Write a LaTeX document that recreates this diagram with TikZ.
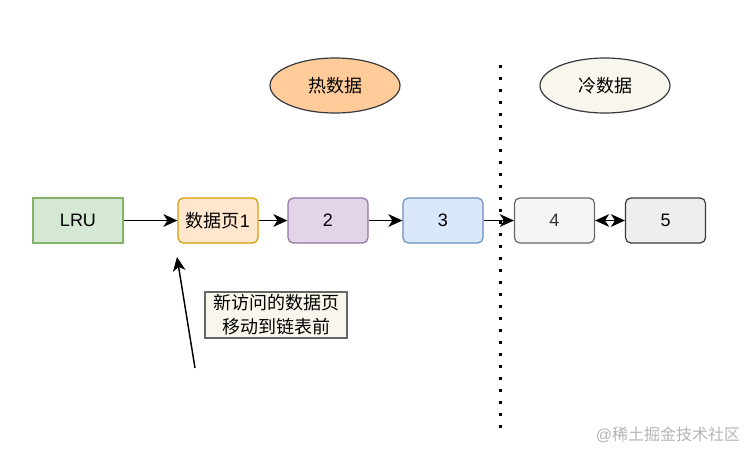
\documentclass[tikz,border=0pt]{standalone}
\usepackage{fontspec}
\setmainfont{Liberation Sans}
\newfontfamily\cjk{Noto Sans CJK SC}
\usetikzlibrary{arrows.meta,positioning,shapes.geometric}
\definecolor{lrufill}{HTML}{D5E8D4}
\definecolor{lruline}{HTML}{82B366}
\definecolor{onefill}{HTML}{FFE6CC}
\definecolor{oneline}{HTML}{D79B00}
\definecolor{twofill}{HTML}{E1D5E7}
\definecolor{twoline}{HTML}{9673A6}
\definecolor{threefill}{HTML}{DAE8FC}
\definecolor{threeline}{HTML}{6C8EBF}
\definecolor{fourfill}{HTML}{F5F5F5}
\definecolor{fourline}{HTML}{666666}
\definecolor{fourtext}{HTML}{333333}
\definecolor{fivefill}{HTML}{EEEEEE}
\definecolor{darkline}{HTML}{36393D}
\definecolor{hotfill}{HTML}{FFCC99}
\definecolor{coldfill}{HTML}{F9F7ED}
\definecolor{markgray}{HTML}{B4B4B4}
\tikzset{%
	page/.style     = {draw, rectangle, rounded corners=4pt, line width=0.9pt, minimum width=60pt, minimum height=33.75pt, inner sep=0pt, text centered}, % list page
	head/.style     = {page, rounded corners=0pt}, % list head
	tag/.style      = {draw=darkline, ellipse, line width=0.9pt, minimum width=97.5pt, minimum height=41.25pt, inner sep=0pt}, % hot / cold label
	note/.style     = {draw=fourline, fill=coldfill, rectangle, line width=1.1pt, minimum width=106.5pt, minimum height=34.5pt, inner sep=1pt, align=center}, % remark
	linktip/.tip    = {Stealth[length=10.5pt,width=9.5pt,inset=3pt]},
	link/.style     = {line width=1.1pt, -linktip},
	dlink/.style    = {line width=1.1pt, linktip-linktip},
}

\begin{document}
\begin{tikzpicture}[x=0.75pt,y=-0.75pt,font=\fontsize{13.5}{18}\selectfont]
	\useasboundingbox (0,0) rectangle (754,458);
	\node [head, fill=lrufill, draw=lruline, minimum width=67.5pt] (lru) at (78,220.5) {LRU};
	\node [page, fill=onefill, draw=oneline] (p1) at (218,220.5) {{\cjk 数据页}1};
	\node [page, fill=twofill, draw=twoline] (p2) at (328,220.5) {2};
	\node [page, fill=threefill, draw=threeline] (p3) at (443,220.5) {3};
	\node [page, fill=fourfill, draw=fourline, text=fourtext] (p4) at (554.5,220.5) {4};
	\node [page, fill=fivefill, draw=darkline] (p5) at (665.5,220.5) {5};
	
	\node [tag, fill=hotfill] (hot) at (335,85.5) {\cjk 热数据};
	\node [tag, fill=coldfill] (cold) at (605,85.5) {\cjk 冷数据};
	
	\node [note] (remark) at (276,315) {\cjk 新访问的数据页\\\cjk 移动到链表前};
	
	% border between hot and cold part
	\coordinate (bordertop) at (500,65);
	\coordinate (borderbot) at (500,428);
	\draw [line width=2.25pt, dash pattern=on 2.25pt off 6.75pt] (bordertop) -- (borderbot);
	
	\draw[link] (lru) -- (p1);
	\draw[link] (p1) -- (p2);
	\draw[link] (p2) -- (p3);
	\draw[link] (p3) -- (p4);
	\draw[dlink] (p4) -- (p5);
	
	\coordinate (pointfrom) at (195,368);
	\coordinate (pointto) at (177,257);
	\draw[link] (pointfrom) -- (pointto);
	
	\node [text=markgray, font=\fontsize{12}{14}\selectfont] (mark) at (668,435) {@{\cjk 稀土掘金技术社区}};
\end{tikzpicture}
\end{document}
